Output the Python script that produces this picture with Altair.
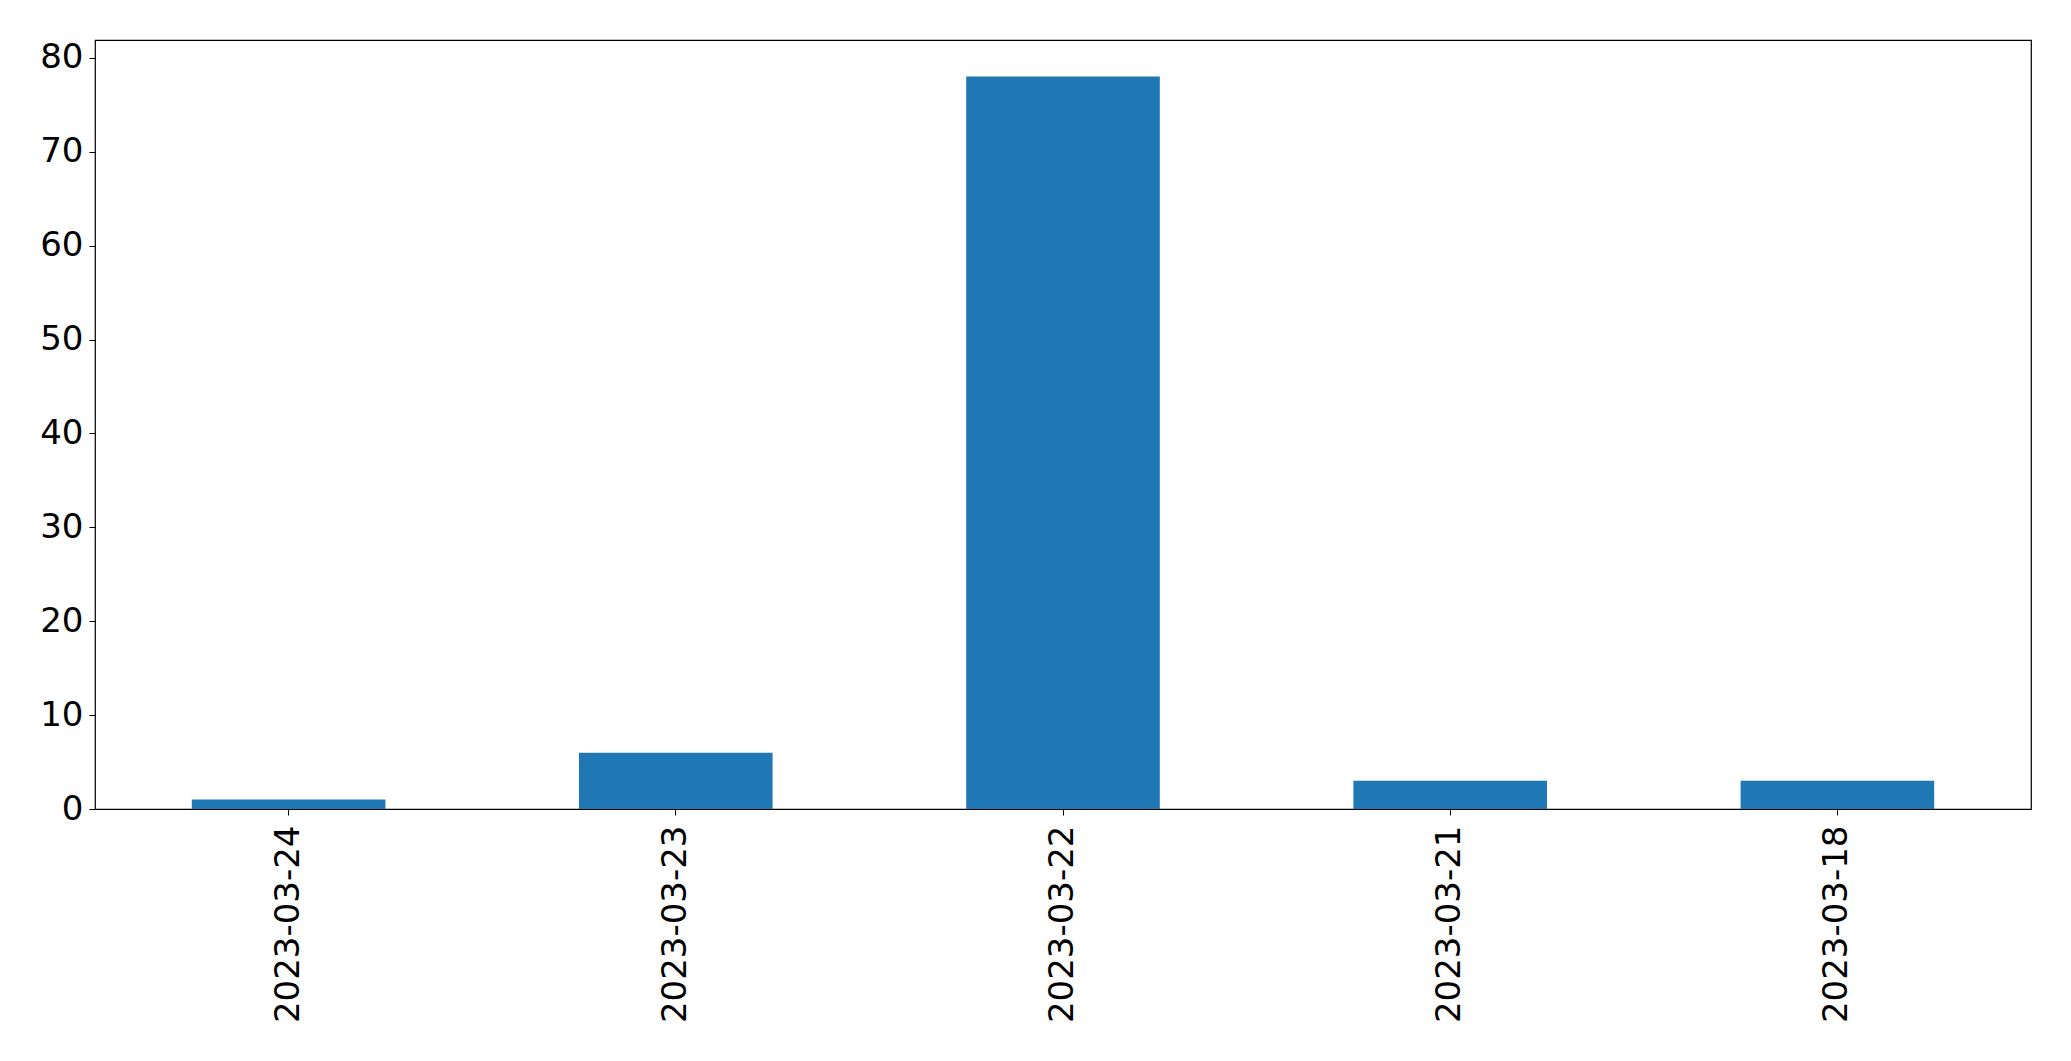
import altair as alt
import pandas as pd

dates = ["2023-03-24", "2023-03-23", "2023-03-22", "2023-03-21", "2023-03-18"]
counts = [1, 6, 78, 3, 3]

df = pd.DataFrame({"date": dates, "count": counts})

FONT = "DejaVu Sans"

chart = alt.Chart(df).mark_bar(color="#1f77b4").encode(
    x=alt.X(
        "date:N",
        sort=dates,
        title=None,
        scale=alt.Scale(paddingInner=0.5, paddingOuter=0.25),
        axis=alt.Axis(
            labelAngle=-90,
            labelFont=FONT,
            labelFontSize=34,
            labelColor="black",
            labelLimit=0,
            tickColor="black",
            tickSize=6,
            tickWidth=1,
            labelPadding=10,
            domain=False,
            grid=False,
        ),
    ),
    y=alt.Y(
        "count:Q",
        title=None,
        scale=alt.Scale(domain=[0, 81.9], nice=False, zero=True),
        axis=alt.Axis(
            values=[0, 10, 20, 30, 40, 50, 60, 70, 80],
            labelFont=FONT,
            labelFontSize=34,
            labelColor="black",
            tickColor="black",
            tickSize=6,
            tickWidth=1,
            labelPadding=6,
            domain=False,
            grid=False,
            labelFlush=False,
        ),
    ),
).properties(
    width=1936,
    height=769,
    autosize=alt.AutoSizeParams(type="none"),
    padding={"left": 87, "top": 32, "right": 20, "bottom": 240},
).configure_view(
    stroke="black",
    strokeWidth=1.2,
)

chart.save("out.html", embed_options={"renderer": "svg", "actions": False})
